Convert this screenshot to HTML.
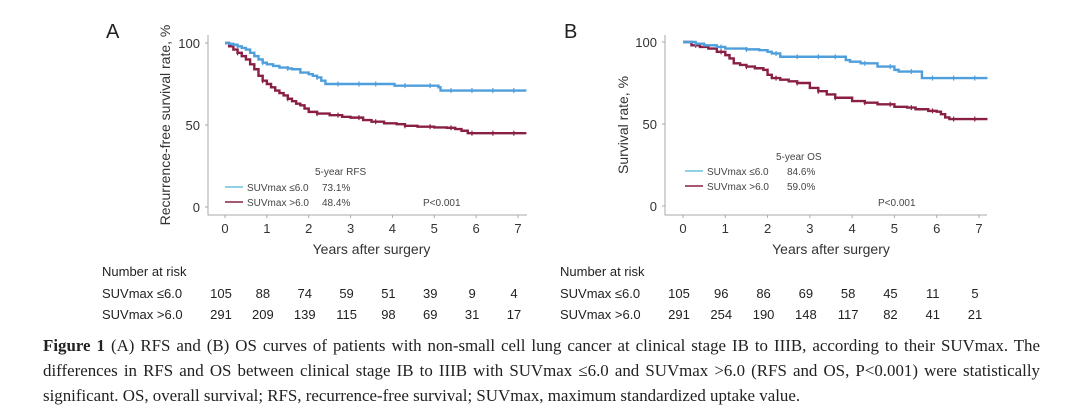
<!DOCTYPE html>
<html><head><meta charset="utf-8">
<style>
body{margin:0;background:#fff;width:1080px;height:418px;overflow:hidden;font-family:"Liberation Sans",sans-serif}
svg{position:absolute;left:0;top:0}
.cap{position:absolute;left:43px;top:333px;width:997px;font-family:"Liberation Serif",serif;font-size:16.9px;line-height:25px;color:#222}
.cap div{text-align:justify;text-align-last:justify;white-space:nowrap}
.cap div.last{text-align-last:left}
</style></head><body>
<svg id="fig" width="1080" height="340"></svg>
<div class="cap"><div><b>Figure 1</b> (A) RFS and (B) OS curves of patients with non-small cell lung cancer at clinical stage IB to IIIB, according to their SUVmax. The</div><div>differences in RFS and OS between clinical stage IB to IIIB with SUVmax ≤6.0 and SUVmax &gt;6.0 (RFS and OS, P&lt;0.001) were statistically</div><div class="last">significant. OS, overall survival; RFS, recurrence-free survival; SUVmax, maximum standardized uptake value.</div></div>
<script>
const xTicks=[0,1,2,3,4,5,6,7];
const yTicks=[0,50,100];
const rfsLowT=[0,0.1,0.2,0.3,0.4,0.5,0.6,0.7,0.8,0.9,1.0,1.15,1.3,1.5,1.6,1.8,2.0,2.1,2.2,2.3,2.4,4.05,5.1,5.15,7.2];
const rfsLowS=[100,99.5,99,98,97,96,94,92,90,88,87,86,85,84.5,84,82,81,80,79,77,75,74,73,71,71];
const rfsHighT=[0,0.1,0.2,0.3,0.4,0.5,0.6,0.7,0.8,0.9,1,1.1,1.2,1.3,1.4,1.5,1.6,1.7,1.8,1.9,2,2.2,2.5,2.8,3,3.3,3.5,3.8,4.1,4.3,4.6,5,5.3,5.5,5.65,5.8,7.2];
const rfsHighS=[100,98,96,94,92,90,87,84,80,77,75,73,71,69.5,68,66,64.5,63,62,60,58,57,56,55,54.5,53,52,51,50.5,49.5,49,48.5,48.3,47.5,46.5,45,45];
const osLowT=[0,0.3,0.5,0.8,1,1.5,1.8,2,2.1,2.3,3.85,3.95,4.2,4.6,5,5.1,5.65,7.2];
const osLowS=[100,99,98,97,96,95.5,95,94,93,91,89,88,87,85,83,82,78,78];
const osHighT=[0,0.2,0.4,0.6,0.8,1,1.1,1.2,1.35,1.5,1.7,1.9,2,2.1,2.3,2.5,2.7,3,3.2,3.4,3.6,4,4.3,4.6,5,5.3,5.5,5.8,6,6.1,6.2,6.3,7.2];
const osHighS=[100,98,97,96,94,92,90,87,86,85,84,83,80,78,77,76,75,72,70,68,66,64,63,62,60.5,60,59,58,57.5,56,54,53,53];
const riskRfsLow=[105,88,74,59,51,39,9,4];
const riskRfsHigh=[291,209,139,115,98,69,31,17];
const riskOsLow=[105,96,86,69,58,45,11,5];
const riskOsHigh=[291,254,190,148,117,82,41,21];
const censor=[0.3,0.9,1.5,2.2,2.7,3.2,3.6,4.3,4.9,5.4,5.9,6.4,6.9];

const svg=document.getElementById('fig');const NS='http://www.w3.org/2000/svg';
function el(tag,a,txt){const e=document.createElementNS(NS,tag);for(const k in a)e.setAttribute(k,a[k]);if(txt!=null)e.textContent=txt;svg.appendChild(e);return e;}
function stepVal(T,S,t){let v=S[0];for(let i=0;i<T.length;i++){if(T[i]<=t)v=S[i];}return v;}
function panel(p){
 const X=t=>p.x0+t*(p.x7-p.x0)/7, Y=v=>p.y0-v*(p.y0-p.y100)/100;
 let e=el('text',{x:p.labX,y:38,'font-size':20,fill:'#222'},p.label);
 
 e=el('path',{d:`M${p.ax},35 V215 H${p.ar}`,stroke:'#aaa',fill:'none','stroke-width':1});
 
 yTicks.forEach(v=>{let t=el('text',{x:p.ax-8,y:Y(v)+5,'font-size':13,'text-anchor':'end',fill:'#333'},v);
  
  el('line',{x1:p.ax-3,x2:p.ax,y1:Y(v),y2:Y(v),stroke:'#aaa'});});
 xTicks.forEach(v=>{let t=el('text',{x:X(v),y:233,'font-size':13,'text-anchor':'middle',fill:'#333'},v);
  
  el('line',{x1:X(v),x2:X(v),y1:215,y2:218,stroke:'#aaa'});});
 e=el('text',{x:(p.x0+p.x7)/2,y:254,'font-size':14,'text-anchor':'middle',fill:'#333'},'Years after surgery');
 
 e=el('text',{x:0,y:0,'font-size':14,'text-anchor':'middle',fill:'#333',transform:`translate(${p.ytx},125) rotate(-90)`},p.ytitle);
 
 [[p.hiT,p.hiS,'#8a1f45','high'],[p.loT,p.loS,'#4f9fdc','low']].forEach(([T,S,c,n])=>{
  let d=`M${X(T[0])},${Y(S[0])}`;
  for(let i=1;i<T.length;i++){d+=` H${X(T[i])} V${Y(S[i])}`;}
  let l=el('path',{d,stroke:c,fill:'none','stroke-width':2.4});
  
  censor.forEach(t=>{const yy=Y(stepVal(T,S,t));let m=el('line',{x1:X(t),x2:X(t),y1:yy-2.5,y2:yy+2.5,stroke:c,'stroke-width':1.2});
   });
 });
 const L=p.leg;
 e=el('text',{x:L.hx,y:L.hy,'font-size':10,fill:'#444'},p.legTitle);
 [['#6cc3dc','SUVmax ≤6.0',p.v1,0],['#8a1f45','SUVmax >6.0',p.v2,1]].forEach(([c,t,v,i])=>{
  const yy=L.ry+i*15;
  let g=el('line',{x1:L.lx,x2:L.lx+18,y1:yy-4,y2:yy-4,stroke:c,'stroke-width':1.6});
  
  g=el('text',{x:L.lx+22,y:yy,'font-size':10,fill:'#444'},t);
  g=el('text',{x:L.vx,y:yy,'font-size':10,fill:'#444'},v);
 });
 e=el('text',{x:L.px,y:L.py,'font-size':10,fill:'#444'},'P<0.001');
 e=el('text',{x:p.tx,y:276,'font-size':13,fill:'#222'},'Number at risk');
 [[p.r1,'SUVmax ≤6.0',298],[p.r2,'SUVmax >6.0',319]].forEach(([r,t,yy])=>{
  let g=el('text',{x:p.tx,y:yy,'font-size':13,fill:'#222'},t);
  r.forEach((v,i)=>{let n=el('text',{x:X(xTicks[i])-4,y:yy,'font-size':13,'text-anchor':'middle',fill:'#222'},v);
   });
 });
}
panel({key:'a',label:'A',labX:106,x0:225,x7:518,y0:207,y100:43,ax:208,ar:527,ytx:170,ytitle:'Recurrence-free survival rate, %',
 loT:rfsLowT,loS:rfsLowS,hiT:rfsHighT,hiS:rfsHighS,legTitle:'5-year RFS',v1:'73.1%',v2:'48.4%',
 leg:{hx:315,hy:175,lx:225,ry:191,vx:322,px:423,py:206},tx:102,r1:riskRfsLow,r2:riskRfsHigh});
panel({key:'b',label:'B',labX:564,x0:683,x7:979,y0:206,y100:42,ax:665,ar:987,ytx:628,ytitle:'Survival rate, %',
 loT:osLowT,loS:osLowS,hiT:osHighT,hiS:osHighS,legTitle:'5-year OS',v1:'84.6%',v2:'59.0%',
 leg:{hx:776,hy:160,lx:685,ry:175,vx:787,px:878,py:206},tx:560,r1:riskOsLow,r2:riskOsHigh});
</script>
</body></html>
